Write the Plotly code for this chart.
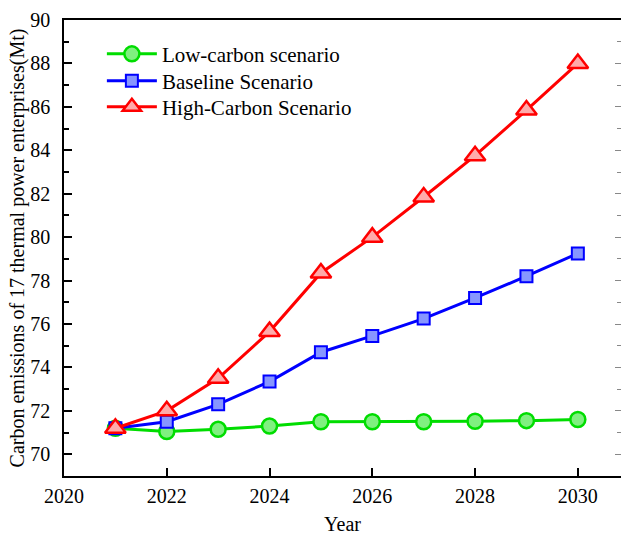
import plotly.graph_objects as go

years = [2021, 2022, 2023, 2024, 2025, 2026, 2027, 2028, 2029, 2030]
low_carbon = [71.2, 71.05, 71.15, 71.3, 71.5, 71.5, 71.5, 71.52, 71.55, 71.6]
baseline = [71.2, 71.5, 72.3, 73.35, 74.7, 75.45, 76.25, 77.2, 78.2, 79.25]
high_carbon = [71.2, 72.0, 73.5, 75.65, 78.35, 80.0, 81.85, 83.75, 85.85, 88.0]

names = ["Low-carbon scenario", "Baseline Scenario", "High-Carbon Scenario"]
x_ticks = [2020, 2022, 2024, 2026, 2028, 2030]
y_ticks = [70, 72, 74, 76, 78, 80, 82, 84, 86, 88, 90]

FONT = "Liberation Serif"

fig = go.Figure()
fig.add_trace(go.Scatter(
    x=years, y=low_carbon, name=names[0], mode="lines+markers", legend="legend",
    line=dict(color="#00dd00", width=3),
    marker=dict(symbol="circle", size=15, color="rgba(128,240,128,1)",
                line=dict(color="#00dd00", width=2.5)),
))
fig.add_trace(go.Scatter(
    x=years, y=baseline, name=names[1], mode="lines+markers", legend="legend2",
    line=dict(color="#0000ff", width=3),
    marker=dict(symbol="square", size=12, color="rgba(135,150,255,1)",
                line=dict(color="#0000ff", width=2)),
))
fig.add_trace(go.Scatter(
    x=years, y=high_carbon, name=names[2], mode="lines+markers", legend="legend3",
    line=dict(color="#ff0000", width=3),
    marker=dict(symbol="triangle-up", size=18, color="rgba(255,170,170,1)",
                line=dict(color="#ff0000", width=2.5)),
))
# invisible trace to host the right-side mirrored ticks
fig.add_trace(go.Scatter(x=years, y=baseline, yaxis="y2", mode="lines",
                         line=dict(width=0), opacity=0, showlegend=False,
                         hoverinfo="skip"))

leg_common = dict(xanchor="left", yanchor="middle", bgcolor="rgba(0,0,0,0)",
                  font=dict(size=21, family=FONT), itemwidth=50)

fig.update_layout(
    width=621, height=535,
    margin=dict(l=64, r=0, t=20, b=59, autoexpand=False),
    paper_bgcolor="white", plot_bgcolor="white",
    font=dict(family=FONT, size=20, color="black"),
    showlegend=True,
    legend=dict(x=0.068, y=0.925, **leg_common),
    legend2=dict(x=0.068, y=0.866, **leg_common),
    legend3=dict(x=0.068, y=0.809, **leg_common),
    xaxis=dict(
        range=[2020, 2030.84], tickmode="array", tickvals=x_ticks,
        ticks="inside", ticklen=8, tickwidth=1.5, tickcolor="black",
        showline=True, linecolor="black", linewidth=1.5, mirror=True,
        showgrid=False, zeroline=False, automargin=False,
        ticklabelstandoff=1,
        title=dict(text="Year", font=dict(size=20, family=FONT), standoff=20),
        tickfont=dict(size=20, family=FONT),
    ),
    yaxis=dict(
        range=[69, 90], tickmode="array", tickvals=y_ticks,
        ticks="inside", ticklen=8, tickwidth=1.5, tickcolor="black",
        minor=dict(dtick=1, ticks="inside", ticklen=5, tickwidth=1.5, tickcolor="black"),
        showline=True, linecolor="black", linewidth=1.5,
        showgrid=False, zeroline=False, automargin=False,
        ticklabelstandoff=8,
        title=dict(text="Carbon emissions of 17 thermal power enterprises(Mt)",
                   font=dict(size=20, family=FONT), standoff=0),
        tickfont=dict(size=20, family=FONT),
    ),
    yaxis2=dict(
        overlaying="y", side="right", range=[69, 90],
        tickmode="array", tickvals=y_ticks, showticklabels=False,
        ticks="inside", ticklen=6, tickwidth=1, tickcolor="#888888",
        minor=dict(dtick=1, ticks="inside", ticklen=4, tickwidth=1, tickcolor="#888888"),
        showline=False, showgrid=False, zeroline=False, automargin=False,
    ),
)

fig.write_html(
    "out.html",
    config={"displayModeBar": False},
    post_script="document.body.style.margin='0';document.body.style.overflow='hidden';",
)
